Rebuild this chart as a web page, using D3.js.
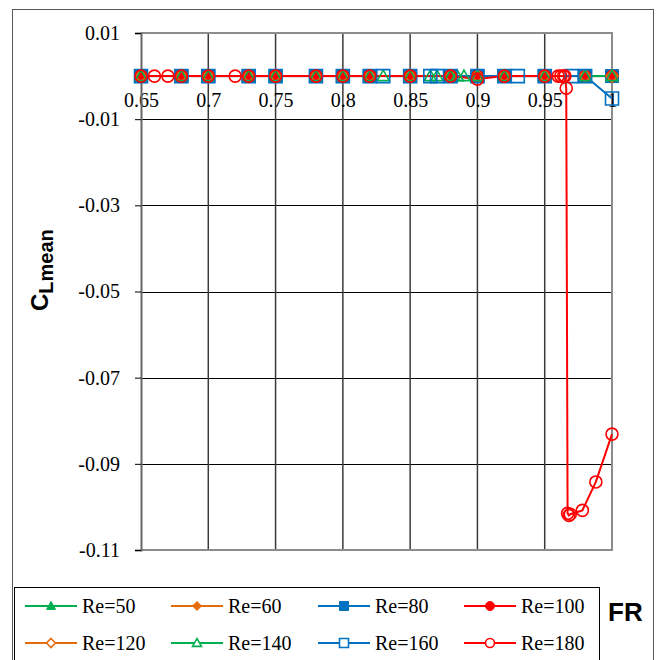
<!DOCTYPE html>
<html>
<head>
<meta charset="utf-8">
<script src="https://cdn.jsdelivr.net/npm/d3@7"></script>
<style>
  body { margin: 0; background: #fff; }
</style>
</head>
<body>
<div id="chart"></div>
<script>
// FR / CL_mean data
const xTicks = [0.65, 0.7, 0.75, 0.8, 0.85, 0.9, 0.95, 1];
const xTickLabels = ["0.65", "0.7", "0.75", "0.8", "0.85", "0.9", "0.95", "1"];
const yTicks = [0.01, -0.01, -0.03, -0.05, -0.07, -0.09, -0.11];
const yTickLabels = ["0.01", "-0.01", "-0.03", "-0.05", "-0.07", "-0.09", "-0.11"];

const frCommon = [0.65, 0.68, 0.70, 0.73, 0.75, 0.78, 0.80, 0.82, 0.85, 0.88, 0.90, 0.92, 0.95, 0.98, 1.00];
const clCommon = [0, 0, 0, 0, 0, 0, 0, 0, 0, 0, 0, 0, 0, 0, 0];

const fr140 = [0.65, 0.68, 0.70, 0.73, 0.75, 0.78, 0.80, 0.82, 0.83, 0.85, 0.865, 0.87, 0.88, 0.885, 0.89, 0.90, 0.92, 0.95, 0.98, 1.00];
const cl140 = [0, 0, 0, 0, 0, 0, 0, 0, 0, 0, 0, 0, 0, 0, 0, 0, 0, 0, 0, 0];

const fr160 = [0.65, 0.68, 0.70, 0.73, 0.75, 0.78, 0.80, 0.82, 0.83, 0.85, 0.865, 0.87, 0.88, 0.90, 0.92, 0.93, 0.95, 0.97, 0.98, 1.00];
const cl160 = [0, 0, 0, 0, 0, 0, 0, 0, 0, 0, 0, 0, 0, 0, 0, 0, 0, 0, 0, -0.0052];

const fr180 = [0.65, 0.66, 0.67, 0.68, 0.70, 0.72, 0.73, 0.75, 0.78, 0.80, 0.82, 0.85, 0.88, 0.90, 0.92, 0.95, 0.96, 0.962, 0.964, 0.965, 0.966, 0.967, 0.968, 0.969, 0.978, 0.988, 1.00];
const cl180 = [0, 0, 0, 0, 0, 0, 0, 0, 0, 0, 0, 0, 0, -0.0007, 0, 0, 0, 0, 0, 0, -0.0028, -0.1015, -0.1020, -0.1017, -0.1008, -0.0942, -0.0831];

const seriesNames = ["Re=50", "Re=60", "Re=80", "Re=100", "Re=120", "Re=140", "Re=160", "Re=180"];
const seriesX = [frCommon, frCommon, frCommon, frCommon, frCommon, fr140, fr160, fr180];
const seriesY = [clCommon, clCommon, clCommon, clCommon, clCommon, cl140, cl160, cl180];

// styles
const seriesColors = ["#00B050", "#E46C0A", "#0070C0", "#FF0000", "#E46C0A", "#00B050", "#0070C0", "#FF0000"];
const seriesShapes = ["triangle", "diamond", "square", "circle", "diamond", "triangle", "square", "circle"];
const seriesFilled = [true, true, true, true, false, false, false, false];

const serifFont = "'Liberation Serif', 'Times New Roman', serif";
const sansFont = "Arial, 'Liberation Sans', sans-serif";

const series = seriesNames.map((name, i) => ({
    name: name,
    color: seriesColors[i],
    shape: seriesShapes[i],
    filled: seriesFilled[i],
    values: seriesX[i].map((fr, j) => ({fr: fr, cl: seriesY[i][j]}))
}));

function markerPath(shape, s) {
    const h = s / 2;
    if (shape === "square") return `M${-h},${-h}H${h}V${h}H${-h}Z`;
    if (shape === "diamond") return `M0,${-h}L${h},0L0,${h}L${-h},0Z`;
    if (shape === "triangle") return `M0,${-h}L${h},${h * 0.75}L${-h},${h * 0.75}Z`;
    return `M${-h},0A${h},${h} 0 1,0 ${h},0A${h},${h} 0 1,0 ${-h},0Z`;
}
const plotSize = {square: 13, diamond: 12, triangle: 12, circle: 12};
const legendSize = {square: 9, diamond: 9, triangle: 9, circle: 9};

const W = 662, H = 660;
const svg = d3.select("#chart").append("svg")
    .attr("width", W)
    .attr("height", H);

// outer chart frame
svg.append("rect")
    .attr("x", 12.5).attr("y", 9.5)
    .attr("width", 641).attr("height", 700)
    .attr("fill", "#fff")
    .attr("stroke", "#595959")
    .attr("stroke-width", 1);

const x = d3.scaleLinear().domain([0.65, 1.0]).range([141, 612]);
const y = d3.scaleLinear().domain([0.01, -0.11]).range([33, 550]);

// horizontal grid
svg.append("g")
    .selectAll("line")
    .data(yTicks.slice(1, -1))
    .join("line")
    .attr("x1", x(0.65)).attr("x2", x(1))
    .attr("y1", d => Math.round(y(d)) + 0.5).attr("y2", d => Math.round(y(d)) + 0.5)
    .attr("stroke", "#000")
    .attr("stroke-width", 1);

// vertical grid
svg.append("g")
    .selectAll("line")
    .data(xTicks.slice(1, -1))
    .join("line")
    .attr("x1", d => x(d)).attr("x2", d => x(d))
    .attr("y1", y(0.01)).attr("y2", y(-0.11))
    .attr("stroke", "#3a3a3a")
    .attr("stroke-width", 1.5);

// plot area border (top, right, bottom)
svg.append("path")
    .attr("d", `M${x(0.65)},${y(0.01)}H${x(1)}V${y(-0.11)}H${x(0.65)}`)
    .attr("fill", "none")
    .attr("stroke", "#8c8c8c")
    .attr("stroke-width", 2);

// x axis sits at CL = 0
const xAxis = svg.append("g")
    .attr("transform", `translate(0,${y(0)})`)
    .call(d3.axisBottom(x).tickValues(xTicks).tickSize(0)
        .tickFormat((d, i) => xTickLabels[i]));
xAxis.attr("font-family", serifFont).attr("font-size", 20);
xAxis.select(".domain").attr("stroke", "#8c8c8c").attr("stroke-width", 1.5);
xAxis.selectAll("text")
    .attr("y", 31).attr("dy", 0)
    .attr("fill", "#000");

// y axis
const yAxis = svg.append("g")
    .attr("transform", `translate(${x(0.65)},0)`)
    .call(d3.axisLeft(y).tickValues(yTicks).tickSize(6).tickPadding(15)
        .tickFormat((d, i) => yTickLabels[i]));
yAxis.attr("font-family", serifFont).attr("font-size", 20);
yAxis.select(".domain").attr("stroke", "#666").attr("stroke-width", 2);
yAxis.selectAll(".tick line").attr("stroke", "#000");
yAxis.selectAll("text")
    .attr("fill", "#000");

// y axis title
const yTitle = svg.append("text")
    .attr("transform", "translate(48,311) rotate(-90)")
    .attr("text-anchor", "start")
    .attr("font-family", sansFont)
    .attr("font-weight", "bold");
yTitle.append("tspan").attr("font-size", 24).text("C");
yTitle.append("tspan").attr("dy", 5).attr("font-size", 20).text("Lmean");

// series lines
const line = d3.line()
    .x(d => x(d.fr))
    .y(d => y(d.cl));

svg.append("g")
    .selectAll("path")
    .data(series)
    .join("path")
    .attr("d", d => line(d.values))
    .attr("fill", "none")
    .attr("stroke", d => d.color)
    .attr("stroke-width", 2);

// markers
series.forEach(s => {
    svg.append("g")
        .selectAll("path")
        .data(s.values)
        .join("path")
        .attr("transform", d => `translate(${x(d.fr)},${y(d.cl)})`)
        .attr("d", markerPath(s.shape, plotSize[s.shape]))
        .attr("fill", s.filled ? s.color : "none")
        .attr("stroke", s.color)
        .attr("stroke-width", s.filled ? 1 : 1.6);
});

// legend
svg.append("rect")
    .attr("x", 14.5).attr("y", 587.5)
    .attr("width", 585).attr("height", 100)
    .attr("fill", "#fff")
    .attr("stroke", "#000")
    .attr("stroke-width", 1);

const legendCols = [25, 171, 318, 464];
const legendRows = [606, 643];

const legend = svg.append("g")
    .selectAll("g")
    .data(series)
    .join("g")
    .attr("transform", (d, i) => `translate(${legendCols[i % 4]},${legendRows[Math.floor(i / 4)]})`);

legend.append("line")
    .attr("x1", 0).attr("x2", 52)
    .attr("stroke", d => d.color)
    .attr("stroke-width", 2);

legend.append("path")
    .attr("transform", "translate(26,0)")
    .attr("d", d => markerPath(d.shape, legendSize[d.shape]))
    .attr("fill", d => d.filled ? d.color : "#fff")
    .attr("stroke", d => d.color)
    .attr("stroke-width", d => d.filled ? 1 : 1.6);

legend.append("text")
    .attr("x", 57)
    .attr("y", 7)
    .attr("font-size", 20)
    .attr("font-family", serifFont)
    .attr("fill", "#000")
    .text(d => d.name);

// x axis title
svg.append("text")
    .attr("x", 608)
    .attr("y", 621)
    .attr("font-family", sansFont)
    .attr("font-weight", "bold")
    .attr("font-size", 26)
    .text("FR");
</script>
</body>
</html>
